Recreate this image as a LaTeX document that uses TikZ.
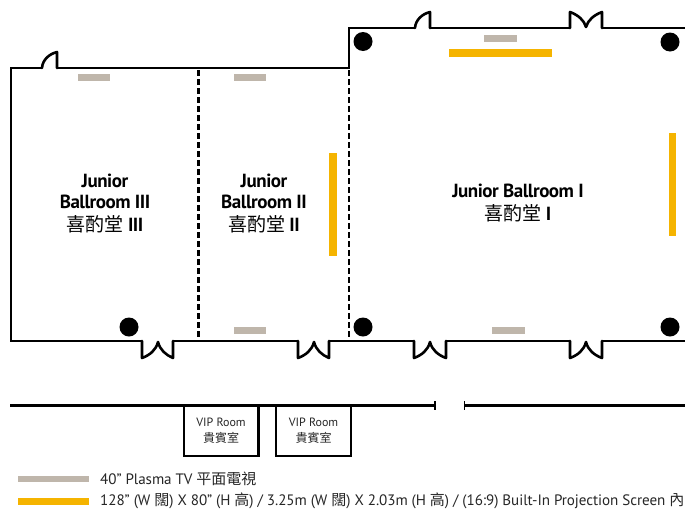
\documentclass[tikz,border=0pt]{standalone}
\usepackage{fontspec}
\setmainfont{PT Sans}
\newfontfamily\cjk{Noto Sans CJK TC}
\newcommand{\roomcjk}[1]{{\fontsize{19}{20}\selectfont\cjk\mdseries #1}}
\newcommand{\legcjk}[1]{{\fontsize{15}{15}\selectfont\cjk #1}}
\definecolor{tvgray}{HTML}{BFB6AB}
\definecolor{screenyellow}{HTML}{F5B400}
\tikzset{
  wall/.style={line width=2.8pt,line join=miter,line cap=butt,black},
  partition/.style={line width=2.5pt,dash pattern=on 6pt off 3pt,black},
  thin wall/.style={line width=2.2pt,black},
  doorline/.style={line width=2.6pt,line join=round,line cap=round,black},
  column/.style={fill=black,draw=none,circle,minimum size=19pt,inner sep=0pt},
  tvbar/.style={fill=tvgray,draw=none},
  screenbar/.style={fill=screenyellow,draw=none},
  roomlabel/.style={align=center,font=\fontsize{19}{21}\selectfont\bfseries\addfontfeature{LetterSpace=-2.5},text=black,inner sep=0pt},
  viplabel/.style={align=center,font=\fontsize{12}{16}\selectfont,text=black!85,inner sep=0pt},
  legendlabel/.style={anchor=west,font=\fontsize{15.1}{15}\selectfont\addfontfeature{LetterSpace=-0.5},text=black!85,inner sep=0pt}
}
\begin{document}
\begin{tikzpicture}[x=1pt,y=-1pt]
\useasboundingbox (0,0) rectangle (685,509);
\clip (0,0) rectangle (685,509);
% walls
\draw[wall] (42,68) -- (11,68) -- (11,341) -- (142,341);
\draw[wall] (57,68) -- (350.4,68);
\draw[wall] (173,341) -- (298,341);
\draw[wall] (329,341) -- (414,341);
\draw[wall] (446,341) -- (570,341);
\draw[wall] (602,341) -- (685,341);
\draw[wall] (349,68) -- (349,28) -- (415,28);
\draw[wall] (430,28) -- (570,28);
\draw[wall] (602,28) -- (685,28);
% partitions
\draw[partition] (198.5,70) -- (198.5,340);
\draw[partition] (349.2,70) -- (349.2,340);
% single doors
\draw[doorline] (42,68) .. controls (42.5,60) and (49,54) .. (57,52) -- (57,68);
\draw[doorline] (415,28) .. controls (415.5,20) and (422,14) .. (430,12) -- (430,28);
% double doors
\draw[doorline] (570,28) -- (570,12) .. controls (578,15) and (584,20) .. (586,27) .. controls (588,20) and (594,15) .. (602,12) -- (602,28);
\draw[doorline] (142,341) -- (142,358) .. controls (150,355) and (156,350) .. (158,342) .. controls (160,350) and (166,355) .. (173,358) -- (173,341);
\draw[doorline] (298,341) -- (298,358) .. controls (306,355) and (312,350) .. (314,342) .. controls (316,350) and (322,355) .. (329,358) -- (329,341);
\draw[doorline] (414,341) -- (414,358) .. controls (422,355) and (428,350) .. (430,342) .. controls (432,350) and (438,355) .. (446,358) -- (446,341);
\draw[doorline] (570,341) -- (570,358) .. controls (578,355) and (584,350) .. (586,342) .. controls (588,350) and (594,355) .. (602,358) -- (602,341);
% columns
\node[column] (c1) at (129,327) {};
\node[column] (c2) at (363,41.5) {};
\node[column] (c3) at (670,42) {};
\node[column] (c4) at (363,327) {};
\node[column] (c5) at (670,327) {};
% plasma TVs
\fill[tvbar] (78,74) rectangle (110,80.5);
\fill[tvbar] (234,74) rectangle (266,80.5);
\fill[tvbar] (484,35) rectangle (517,41.5);
\fill[tvbar] (233.5,327) rectangle (266,333.5);
\fill[tvbar] (492,327) rectangle (525,333.5);
% screens
\fill[screenbar] (449,49) rectangle (552,56.5);
\fill[screenbar] (329,153) rectangle (336.5,255.5);
\fill[screenbar] (668.5,133) rectangle (676,235.5);
% labels
\node[roomlabel] (r3) at (105,203.5) {Junior\\Ballroom III\\[2pt]\roomcjk{喜酌堂} III};
\node[roomlabel] (r2) at (264,203.5) {Junior\\Ballroom II\\[2pt]\roomcjk{喜酌堂} II};
\node[roomlabel] (r1) at (518,203.5) {Junior Ballroom I\\[2pt]\roomcjk{喜酌堂} I};
% lower corridor
\draw[thin wall] (10,405.5) -- (435,405.5);
\draw[thin wall] (464.5,405.5) -- (685,405.5);
\draw[line width=1.8pt] (435,401) -- (435,410);
\draw[line width=1.8pt] (464.5,401) -- (464.5,410);
\draw[thin wall] (184,405.5) rectangle (258.5,456);
\draw[thin wall] (276,405.5) rectangle (351,456);
\node[viplabel] (v1) at (221,431) {VIP Room\\{\cjk 貴賓室}};
\node[viplabel] (v2) at (313.5,431) {VIP Room\\{\cjk 貴賓室}};
% legend
\fill[tvbar] (18,476) rectangle (89,482);
\fill[screenbar] (18,498) rectangle (89,505);
\node[legendlabel] (l1) at (100,479) {40" Plasma TV \legcjk{平面電視}};
\node[legendlabel] (l2) at (100,501) {128" (W \legcjk{闊}) X 80" (H \legcjk{高}) / 3.25m (W \legcjk{闊}) X 2.03m (H \legcjk{高}) / (16:9) Built-In Projection Screen \legcjk{內}};
\end{tikzpicture}
\end{document}
